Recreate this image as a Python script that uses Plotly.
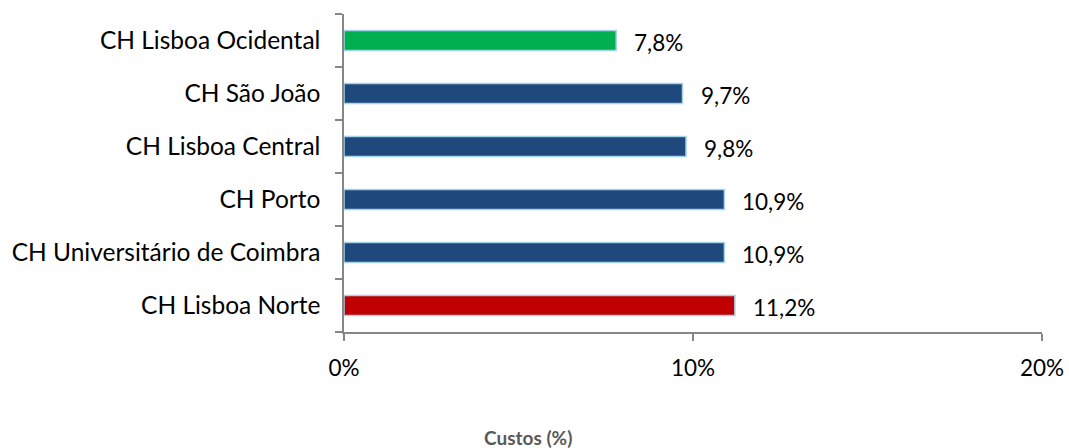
import plotly.graph_objects as go

categories = ["CH Lisboa Norte", "CH Universitário de Coimbra", "CH Porto",
              "CH Lisboa Central", "CH São João", "CH Lisboa Ocidental"]
values = [11.2, 10.9, 10.9, 9.8, 9.7, 7.8]
labels = ["11,2%", "10,9%", "10,9%", "9,8%", "9,7%", "7,8%"]
colors = ["#C00000", "#1F497D", "#1F497D", "#1F497D", "#1F497D", "#00B050"]
x_ticks = [0, 10, 20]
x_ticklabels = ["0%", "10%", "20%"]

font_family = "Lato, Open Sans, sans-serif"
FS_CAT = 24.5
FS_NUM = 22.5

fig = go.Figure()
fig.add_trace(go.Bar(
    y=categories, x=values, orientation="h",
    marker=dict(color=colors, line=dict(color="#A5D3E8", width=1.5)),
    hoverinfo="skip",
))

for c, v, t in zip(categories, values, labels):
    fig.add_annotation(x=v, y=c, text=t, showarrow=False, xanchor="left",
                       xshift=16, yshift=-2,
                       font=dict(family=font_family, size=FS_NUM, color="#000000"))

fig.add_annotation(text="<b>Custos (%)</b>", xref="paper", yref="paper",
                   x=(528 - 344) / 698, y=-(437 - 332) / 318, showarrow=False,
                   xanchor="center", yanchor="middle",
                   font=dict(family=font_family, size=19, color="#595959"))

fig.update_layout(
    width=1069, height=448,
    margin=dict(l=344, r=27, t=14, b=116, autoexpand=False),
    plot_bgcolor="white", paper_bgcolor="white",
    bargap=0.62, showlegend=False,
    font=dict(family=font_family, size=FS_CAT, color="#000000"),
    xaxis=dict(range=[0, 20], tickvals=x_ticks, ticktext=x_ticklabels,
               showgrid=False, zeroline=False, showline=True,
               linecolor="#868686", linewidth=1.5, automargin=False,
               ticks="outside", ticklen=7, tickcolor="#868686", tickwidth=1.5,
               ticklabelstandoff=8,
               tickfont=dict(family=font_family, size=FS_NUM, color="#000000")),
    yaxis=dict(showgrid=False, zeroline=False, showline=True,
               linecolor="#868686", linewidth=1.5, automargin=False,
               ticks="outside", ticklen=7, tickcolor="#868686", tickwidth=1.5,
               tickson="boundaries", ticklabelstandoff=17,
               tickfont=dict(family=font_family, size=FS_CAT, color="#000000")),
)

fig.write_html("out.html", config={"displayModeBar": False},
               post_script="document.body.style.margin='0';document.body.style.overflow='hidden';")
